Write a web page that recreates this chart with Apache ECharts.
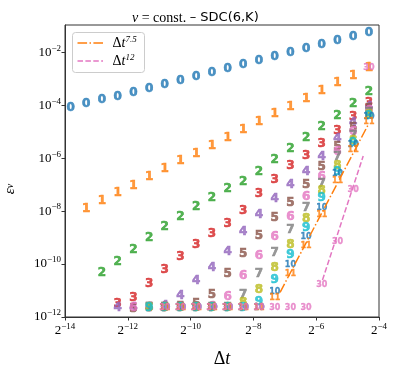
<!DOCTYPE html>
<html><head><meta charset="utf-8">
<script src="https://cdn.jsdelivr.net/npm/echarts@6/dist/echarts.min.js"></script>
<style>html,body{margin:0;padding:0;background:#fff}#c{width:397px;height:365px}</style>
</head><body><div id="c"></div>
<script>
// time step sizes (x)
const dt = [0.000069053, 0.000097656, 0.00013811, 0.00019531, 0.00027621, 0.00039063, 0.00055243, 0.00078125,
  0.0011049, 0.0015625, 0.0022097, 0.003125, 0.0044194, 0.00625, 0.0088388, 0.0125, 0.017678, 0.025, 0.035355, 0.05];

// errors for each K (null = no point)
const err0 = [7.65e-5, 1.09e-4, 1.58e-4, 2.10e-4, 2.98e-4, 4.11e-4, 5.97e-4, 8.24e-4, 1.17e-3, 1.65e-3,
  2.28e-3, 3.23e-3, 4.57e-3, 6.64e-3, 9.16e-3, 1.30e-2, 1.84e-2, 2.67e-2, 3.78e-2, 5.22e-2];
const err1 = [null, 1.17e-8, 2.41e-8, 4.71e-8, 9.12e-8, 1.90e-7, 3.90e-7, 7.62e-7, 1.48e-6, 2.84e-6,
  5.64e-6, 1.16e-5, 2.27e-5, 4.58e-5, 8.81e-5, 1.72e-4, 3.45e-4, 7.10e-4, 1.31e-3, 2.55e-3];
const err2 = [null, null, 4.48e-11, 1.23e-10, 3.40e-10, 9.40e-10, 2.58e-9, 6.15e-9, 1.47e-8, 3.21e-8,
  6.86e-8, 1.29e-7, 2.93e-7, 8.53e-7, 2.22e-6, 5.94e-6, 1.55e-5, 3.93e-5, 1.09e-4, 3.25e-4];
const err3 = [null, null, null, 3.10e-12, 5.08e-12, 1.72e-11, 5.81e-11, 1.90e-10, 5.25e-10, 1.37e-9,
  3.18e-9, 1.04e-8, 4.32e-8, 1.57e-7, 5.20e-7, 1.24e-6, 3.44e-6, 1.06e-5, 3.69e-5, 1.18e-4];
const err4 = [null, null, null, 2.13e-12, 2.19e-12, 2.20e-12, 2.61e-12, 6.21e-12, 2.23e-11, 7.10e-11,
  2.78e-10, 1.67e-9, 7.33e-9, 2.92e-8, 9.44e-8, 3.01e-7, 1.14e-6, 5.31e-6, 2.17e-5, 8.95e-5];
const err5 = [null, null, null, null, 2.10e-12, 2.20e-12, 2.30e-12, 2.50e-12, 3.10e-12, 7.08e-12,
  4.21e-11, 2.46e-10, 1.20e-9, 5.50e-9, 2.12e-8, 9.70e-8, 4.76e-7, 2.72e-6, 1.35e-5, 7.53e-5];
const err6 = [null, null, null, null, 2.20e-12, 2.20e-12, 2.20e-12, 2.30e-12, 2.30e-12, 2.40e-12,
  5.94e-12, 3.54e-11, 2.10e-10, 1.05e-9, 6.00e-9, 3.51e-8, 2.03e-7, 1.71e-6, 9.75e-6, 6.32e-5];
const err7 = [null, null, null, null, null, 2.20e-12, 2.20e-12, 2.20e-12, 2.20e-12, 2.20e-12,
  2.20e-12, 6.78e-12, 4.21e-11, 2.55e-10, 1.88e-9, 1.31e-8, 1.09e-7, 1.11e-6, 7.20e-6, 5.32e-5];
const err8 = [null, null, null, null, null, 2.20e-12, 2.20e-12, 2.20e-12, 2.20e-12, 2.20e-12,
  2.20e-12, 3.38e-12, 1.05e-11, 7.41e-11, 5.25e-10, 5.13e-9, 6.01e-8, 5.07e-7, 4.57e-6, 4.47e-5];
const err9 = [null, null, null, null, null, 2.20e-12, 2.20e-12, 2.20e-12, 2.20e-12, 2.20e-12,
  2.20e-12, 2.20e-12, 3.78e-12, 2.50e-11, 2.20e-10, 2.24e-9, 3.13e-8, 3.01e-7, 3.65e-6, 3.93e-5];
const err10 = [null, null, null, null, null, null, 2.20e-12, 2.20e-12, 2.20e-12, 2.20e-12,
  2.20e-12, 2.20e-12, 2.20e-12, 9.04e-12, 9.46e-11, 1.03e-9, 1.35e-8, 2.64e-7, 3.15e-6, 3.60e-5];
const err11 = [null, null, null, null, null, null, 2.20e-12, 2.20e-12, 2.20e-12, 2.20e-12,
  2.20e-12, 2.20e-12, 2.20e-12, 5.08e-12, 4.21e-11, 4.94e-10, 7.13e-9, 1.37e-7, 2.04e-6, 2.39e-5];
const err30 = [null, null, null, null, null, null, 2.25e-12, 2.25e-12, 2.25e-12, 2.25e-12,
  2.25e-12, 2.25e-12, 2.25e-12, 2.25e-12, 2.25e-12, 2.25e-12, 1.62e-11, 7.00e-10, 6.28e-8, 2.62e-3];

const seriesNames = ['0', '1', '2', '3', '4', '5', '6', '7', '8', '9', '10', '11', '30'];
const seriesErrors = [err0, err1, err2, err3, err4, err5, err6, err7, err8, err9, err10, err11, err30];

// reference slope lines (end points)
const ref75X = [0.00704, 0.05];
const ref75Y = [8.57e-12, 2.07e-5];
const ref12X = [0.01795, 0.0441];
const ref12Y = [2.50e-11, 1.21e-6];
const legendLabels = ['7.5', '12'];

// tick exponents
const xTickExp = [-14, -12, -10, -8, -6, -4];
const yTickExp = [-12, -10, -8, -6, -4, -2];

const colors = ['#1f77b4', '#ff7f0e', '#2ca02c', '#d62728', '#9467bd', '#8c564b', '#e377c2',
  '#7f7f7f', '#bcbd22', '#17becf', '#1f77b4', '#ff7f0e', '#e377c2'];

const SERIF = 'Liberation Serif';
const SANS = 'DejaVu Sans';
const DASHDOT = [9.6, 2.4, 1.5, 2.4];
const DASHED = [5.5, 2.4];

function sup(n) { return n < 0 ? '\u2212' + Math.abs(n) : String(n); }

const series = [];
seriesNames.forEach((name, i) => {
  const data = [];
  seriesErrors[i].forEach((v, j) => { if (v != null) data.push([dt[j], v]); });
  series.push({
    type: 'scatter', name: name, data: data,
    symbol: 'circle', symbolSize: 1,
    itemStyle: { color: 'rgba(0,0,0,0)' },
    label: {
      show: true, position: 'inside', formatter: name,
      color: colors[i], fontFamily: SANS, fontWeight: 'bold',
      fontSize: name.length > 1 ? 8 : 12,
      textBorderColor: colors[i], textBorderWidth: name.length > 1 ? 0.3 : 0.6
    },
    z: 2 + i
  });
});
series.push({
  type: 'line', name: 'r75', data: ref75X.map((x, k) => [x, ref75Y[k]]),
  symbol: 'none', lineStyle: { color: '#ff7f0e', width: 1.5, type: DASHDOT }, z: 20
});
series.push({
  type: 'line', name: 'r12', data: ref12X.map((x, k) => [x, ref12Y[k]]),
  symbol: 'none', lineStyle: { color: '#e377c2', width: 1.5, type: DASHED }, z: 20
});

const supRich = {
  b: { fontFamily: SERIF, fontSize: 13, color: '#000' },
  e: { fontFamily: SERIF, fontSize: 9, color: '#000', padding: [0, 0, 8, 0] }
};
const legRich = {
  d: { fontFamily: SERIF, fontSize: 14, fill: '#000' },
  t: { fontFamily: SERIF, fontStyle: 'italic', fontSize: 14, fill: '#000' },
  e: { fontFamily: SERIF, fontStyle: 'italic', fontSize: 9, fill: '#000', padding: [0, 0, 8, 0] }
};

const chart = echarts.init(document.getElementById('c'), null, { renderer: 'canvas' });
chart.setOption({
  animation: false,
  backgroundColor: '#fff',
  title: {
    text: '{g|\u03bd}{r| = const. }{s|\u2013 SDC(6,K)}',
    left: 127, top: 6,
    textStyle: {
      fontWeight: 'normal',
      rich: {
        g: { fontFamily: SERIF, fontStyle: 'italic', fontWeight: 'normal', fontSize: 14, color: '#000' },
        r: { fontFamily: SERIF, fontWeight: 'normal', fontSize: 14, color: '#000' },
        s: { fontFamily: SANS, fontWeight: 'normal', fontSize: 13, color: '#000' }
      }
    }
  },
  graphic: [{
    type: 'group', left: 72, top: 32, z: 100,
    children: [
      { type: 'rect', shape: { x: 0, y: 0, width: 72, height: 40, r: 3 },
        style: { fill: 'rgba(255,255,255,0.8)', stroke: '#cccccc', lineWidth: 1 } },
      { type: 'line', shape: { x1: 5, y1: 10.5, x2: 30.5, y2: 10.5 },
        style: { stroke: '#ff7f0e', lineWidth: 1.5, lineDash: DASHDOT } },
      { type: 'line', shape: { x1: 5, y1: 28.5, x2: 30.5, y2: 28.5 },
        style: { stroke: '#e377c2', lineWidth: 1.5, lineDash: DASHED } },
      { type: 'text', x: 40, y: 11, style: { text: '{d|\u0394}{t|t}{e|' + legendLabels[0] + '}', rich: legRich, verticalAlign: 'middle' } },
      { type: 'text', x: 40, y: 29, style: { text: '{d|\u0394}{t|t}{e|' + legendLabels[1] + '}', rich: legRich, verticalAlign: 'middle' } }
    ]
  }],
  grid: { left: 65, right: 18, top: 25, bottom: 48, show: true, borderColor: '#333', borderWidth: 1,
    outerBoundsMode: 'none', containLabel: false },
  xAxis: {
    type: 'log', logBase: 2, min: Math.pow(2, xTickExp[0]), max: Math.pow(2, xTickExp[xTickExp.length - 1]),
    interval: 2,
    name: '{d|\u0394}{t|t}', nameLocation: 'middle', nameGap: 33,
    nameTextStyle: {
      rich: {
        d: { fontFamily: SERIF, fontSize: 18, color: '#000' },
        t: { fontFamily: SERIF, fontStyle: 'italic', fontSize: 18, color: '#000' }
      }
    },
    axisLine: { show: true, lineStyle: { color: '#333', width: 1 } },
    axisTick: { show: true, inside: false, length: 3.5, lineStyle: { color: '#333' } },
    splitLine: { show: false },
    axisLabel: {
      margin: 5,
      formatter: v => { const e = Math.round(Math.log2(v)); return xTickExp.includes(e) ? '{b|2}{e|' + sup(e) + '}' : ''; },
      rich: supRich
    }
  },
  yAxis: {
    type: 'log', logBase: 10, min: 1e-12, max: 0.1074, interval: 2,
    name: '{e|\u03b5}{s|v}', nameLocation: 'middle', nameGap: 47, nameRotate: 90,
    nameTextStyle: {
      padding: [0, 36, 0, 0],
      rich: {
        e: { fontFamily: SERIF, fontStyle: 'italic', fontSize: 15, color: '#000' },
        s: { fontFamily: SERIF, fontStyle: 'italic', fontSize: 10, color: '#000' }
      }
    },
    axisLine: { show: true, lineStyle: { color: '#333', width: 1 } },
    axisTick: { show: true, inside: false, length: 3.5, lineStyle: { color: '#333' } },
    splitLine: { show: false },
    axisLabel: {
      margin: 4, showMaxLabel: false,
      formatter: v => { const l = Math.log10(v); const e = Math.round(l); return (Math.abs(l - e) < 1e-6 && yTickExp.includes(e)) ? '{b|10}{e|' + sup(e) + '}' : ''; },
      rich: supRich
    }
  },
  series: series
});
</script></body></html>
